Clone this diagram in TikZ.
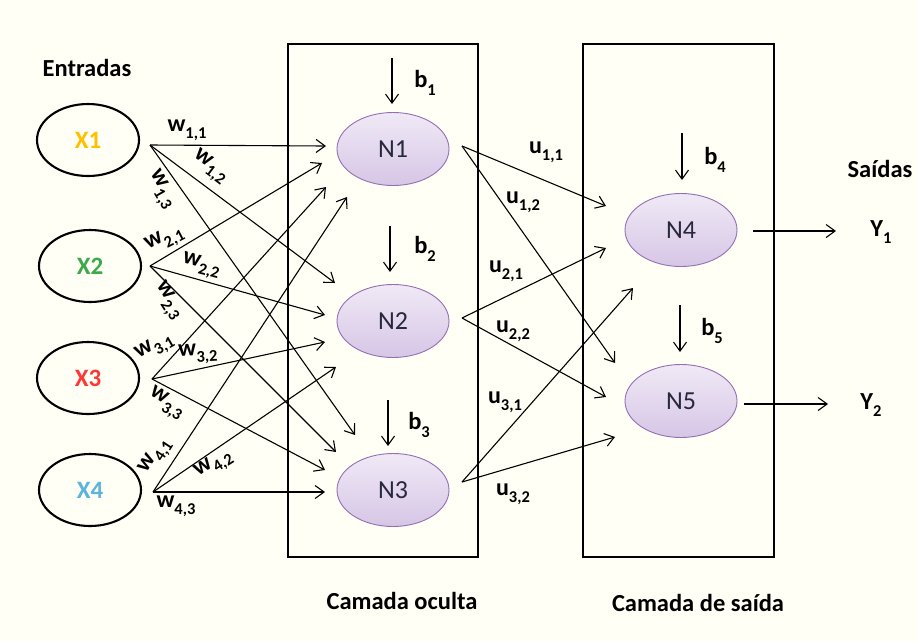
\documentclass[tikz,border=0pt]{standalone}
\usepackage{fontspec}
\setmainfont{Carlito}
\usetikzlibrary{arrows.meta,shapes.geometric}
\definecolor{bg}{RGB}{255,255,245}
\definecolor{nfillA}{RGB}{240,233,246}
\definecolor{nfillB}{RGB}{214,198,230}
\definecolor{nborder}{RGB}{150,110,180}
\definecolor{ntext}{RGB}{40,40,60}
\definecolor{cxa}{RGB}{255,192,0}
\definecolor{cxb}{RGB}{60,170,75}
\definecolor{cxc}{RGB}{255,55,55}
\definecolor{cxd}{RGB}{90,180,220}
\newcommand\mysub[1]{\raisebox{-0.3em}{\fontsize{16.5}{17}\selectfont #1}}
\begin{document}
\begin{tikzpicture}[x=1pt,y=-1pt,
  inel/.style={draw=black,ellipse,line width=2.1pt,minimum width=102pt,minimum height=72pt,inner sep=0pt,
     font=\fontsize{25}{29}\selectfont\bfseries},
  neuron/.style={ellipse,draw=nborder,line width=0.9pt,top color=nfillA,bottom color=nfillB,
     minimum width=112pt,minimum height=73pt,inner sep=0pt,text=ntext,font=\fontsize{26}{30}\selectfont},
  layerbox/.style={draw=black,line width=2.4pt,inner sep=0pt},
  conn/.style={line width=1.1pt,-{Straight Barb[length=9pt,width=13pt,line width=1.1pt]}},
  lbl/.style={font=\fontsize{24.5}{28}\selectfont\bfseries,inner sep=0pt},
  wl/.style={font=\fontsize{24}{26}\selectfont\bfseries,inner sep=0pt},
]
\useasboundingbox[fill=bg] (0,0) rectangle (918,641);

% layer boxes
\node[layerbox,minimum width=190pt,minimum height=513pt] (HB) at (383,300.5) {};
\node[layerbox,minimum width=191pt,minimum height=513pt] (OB) at (678.5,300.5) {};

% titles
\node[lbl] (tin) at (87,68) {Entradas};
\node[lbl] (tout) at (880,169) {Saídas};
\node[lbl] (thid) at (402,601) {Camada oculta};
\node[lbl] (tsai) at (698,603) {Camada de saída};

% inputs
\node[inel,text=cxa] (X1) at (88,140) {X1};
\node[inel,text=cxb] (X2) at (90,266) {X2};
\node[inel,text=cxc] (X3) at (88,378) {X3};
\node[inel,text=cxd] (X4) at (90,490) {X4};

% neurons
\node[neuron] (N1) at (393,149) {N1};
\node[neuron] (N2) at (393,321) {N2};
\node[neuron] (N3) at (393,490) {N3};
\node[neuron] (N4) at (681,230) {N4};
\node[neuron] (N5) at (681,401) {N5};

% source points
\coordinate (s1) at (150,145);
\coordinate (s2) at (150,266);
\coordinate (s3) at (152,379);
\coordinate (s4) at (153,492);
\coordinate (h1) at (462,146);
\coordinate (h2) at (462,318);
\coordinate (h3) at (462,482);
% targets
\coordinate (a11) at (326,146); \coordinate (a12) at (335,283); \coordinate (a13) at (355,435);
\coordinate (a21) at (322,163); \coordinate (a22) at (325,315); \coordinate (a23) at (336,452);
\coordinate (a31) at (326,187); \coordinate (a32) at (325,342); \coordinate (a33) at (325,470);
\coordinate (a41) at (347,197); \coordinate (a42) at (336,367); \coordinate (a43) at (325,492);
\coordinate (c11) at (606,206); \coordinate (c12) at (615,363);
\coordinate (c21) at (606,248); \coordinate (c22) at (606,397);
\coordinate (c31) at (633,288); \coordinate (c32) at (615,437);

\foreach \i in {1,2,3,4}{
  \foreach \j in {1,2,3}{
    \draw[conn] (s\i) -- (a\i\j);
  }
}
\foreach \i in {1,2,3}{
  \foreach \j in {1,2}{
    \draw[conn] (h\i) -- (c\i\j);
  }
}

% biases
\coordinate (b1s) at (392,58);  \coordinate (b1e) at (392,104);
\coordinate (b2s) at (390,226); \coordinate (b2e) at (390,272);
\coordinate (b3s) at (388,400); \coordinate (b3e) at (388,446);
\coordinate (b4s) at (682,133); \coordinate (b4e) at (682,180);
\coordinate (b5s) at (680,305); \coordinate (b5e) at (680,352);
\foreach \k in {1,...,5}{ \draw[conn] (b\k s) -- (b\k e); }
\node[lbl] (lb1) at (425,83) {b\mysub{1}};
\node[lbl] (lb2) at (425,249) {b\mysub{2}};
\node[lbl] (lb3) at (419,425) {b\mysub{3}};
\node[lbl] (lb4) at (715,160) {b\mysub{4}};
\node[lbl] (lb5) at (712,331) {b\mysub{5}};

% outputs
\coordinate (o1s) at (753,231); \coordinate (Y1a) at (836,231);
\coordinate (o2s) at (744,404); \coordinate (Y2a) at (828,404);
\draw[conn] (o1s) -- (Y1a);
\draw[conn] (o2s) -- (Y2a);
\node[lbl] (Y1) at (881,232) {Y\mysub{1}};
\node[lbl] (Y2) at (871,405) {Y\mysub{2}};

% weight labels
\node[wl] (w11) at (187,130) {w\mysub{1,1}};
\node[wl,rotate=-37] (w12) at (210,167) {w\mysub{1,2}};
\node[wl,rotate=-60] (w13) at (161,190) {w\mysub{1,3}};
\node[wl,rotate=27] (w21) at (165,240) {w\mysub{2,1}};
\node[wl,rotate=-15] (w22) at (201,266) {w\mysub{2,2}};
\node[wl,rotate=-57] (w23) at (168,301) {w\mysub{2,3}};
\node[wl,rotate=30] (w31) at (155,348) {w\mysub{3,1}};
\node[wl,rotate=3] (w32) at (198,354) {w\mysub{3,2}};
\node[wl,rotate=-32] (w33) at (166,404) {w\mysub{3,3}};
\node[wl,rotate=57] (w41) at (156,457) {w\mysub{4,1}};
\node[wl,rotate=32] (w42) at (214,465) {w\mysub{4,2}};
\node[wl] (w43) at (176,506) {w\mysub{4,3}};

\node[wl] (u11) at (546,152) {u\mysub{1,1}};
\node[wl] (u12) at (523,202) {u\mysub{1,2}};
\node[wl] (u21) at (506,271) {u\mysub{2,1}};
\node[wl] (u22) at (513,331) {u\mysub{2,2}};
\node[wl] (u31) at (505,402) {u\mysub{3,1}};
\node[wl] (u32) at (513,494) {u\mysub{3,2}};
\end{tikzpicture}
\end{document}
